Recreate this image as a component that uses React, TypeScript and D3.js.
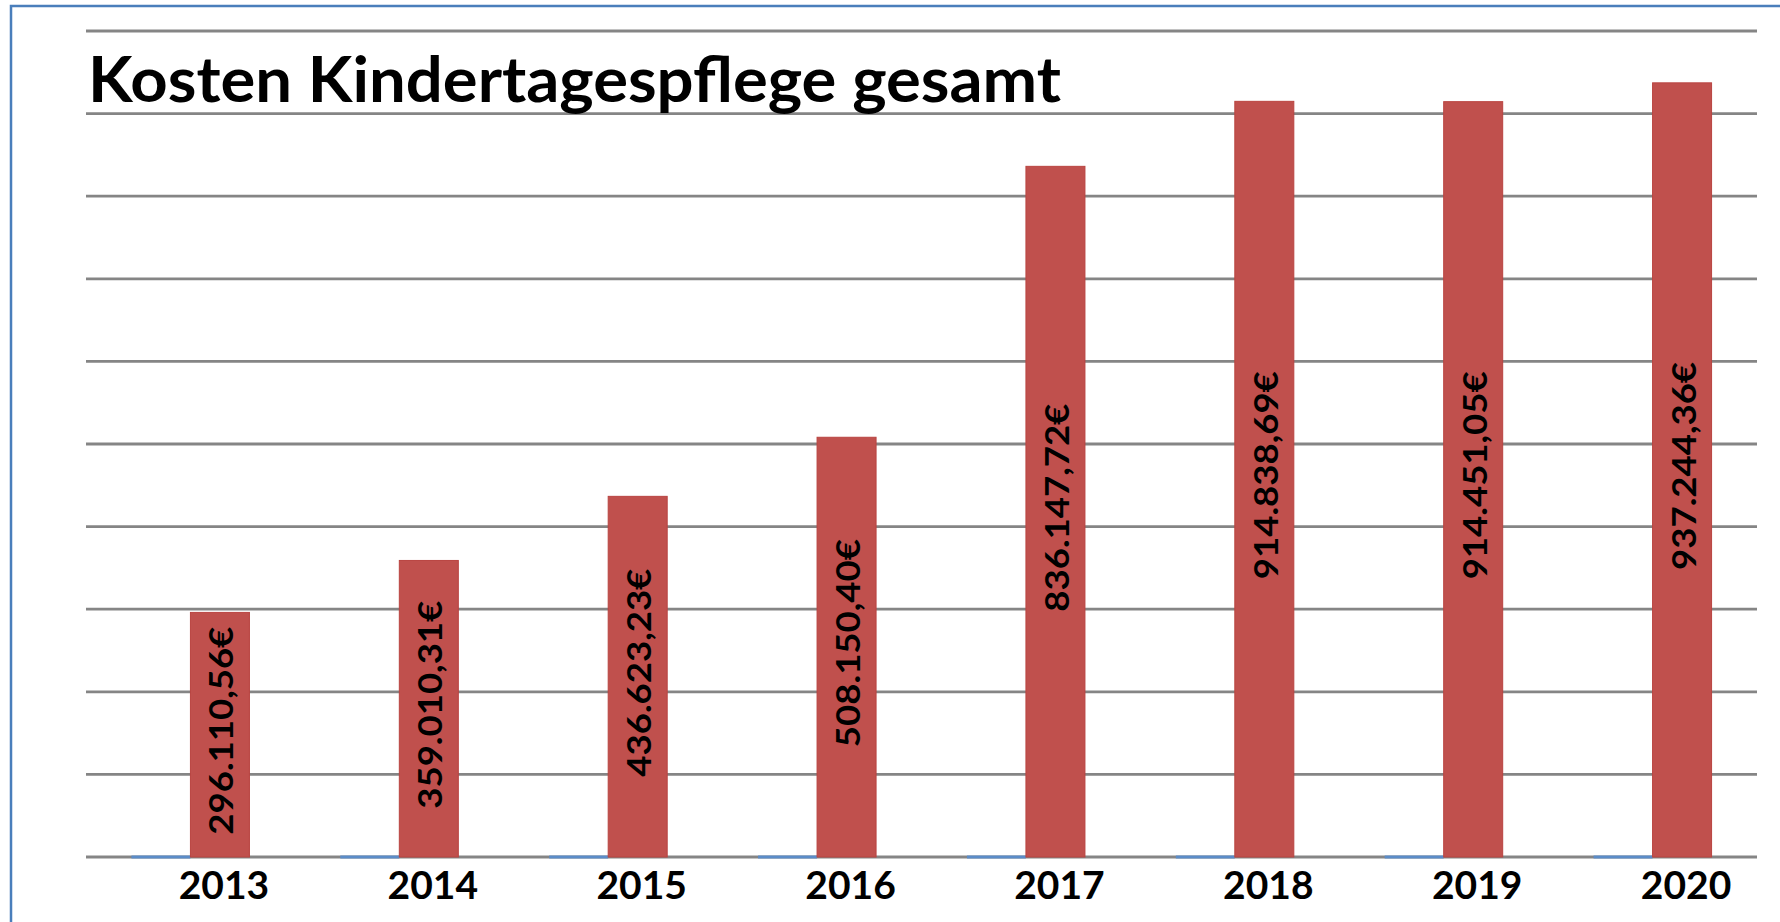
import React from "react";
import * as d3 from "d3";

const title = "Kosten Kindertagespflege gesamt";
const years = ["2013", "2014", "2015", "2016", "2017", "2018", "2019", "2020"];
const costs = [296110.56, 359010.31, 436623.23, 508150.4, 836147.72, 914838.69, 914451.05, 937244.36];
const costLabels = [
  "296.110,56€",
  "359.010,31€",
  "436.623,23€",
  "508.150,40€",
  "836.147,72€",
  "914.838,69€",
  "914.451,05€",
  "937.244,36€",
];
const otherSeries = [0, 0, 0, 0, 0, 0, 0, 0];
const seriesKeys = ["other", "cost"];
const yTicks = [0, 100000, 200000, 300000, 400000, 500000, 600000, 700000, 800000, 900000, 1000000];

const W = 1780;
const H = 922;
const FONT = "Lato, 'Open Sans', 'DejaVu Sans', sans-serif";

export default function App() {
  const x0 = d3.scaleBand<string>().domain(years).range([86, 1757]).paddingInner(0).paddingOuter(0);
  const x1 = d3.scaleBand<string>().domain(seriesKeys).range([0, x0.bandwidth()]).paddingInner(0).paddingOuter(0.77);
  const y = d3.scaleLinear().domain([0, 1000000]).range([857, 31]);
  const [xl, xr] = x0.range();

  return (
    <svg
      width={W}
      height={H}
      style={{ position: "absolute", left: 0, top: 0, background: "#fff" }}
      fontFamily={FONT}
    >
      <rect x={0} y={0} width={W} height={H} fill="#fff" />
      <rect x={11} y={6} width={W + 20} height={H + 20} fill="none" stroke="#4a7ebb" strokeWidth={2.5} />
      {yTicks.map((t) => (
        <line key={t} x1={xl} x2={xr} y1={y(t)} y2={y(t)} stroke="#858585" strokeWidth={2.8} />
      ))}
      <text x={88} y={102} fontSize={63} fontWeight={700} fill="#000" textLength={973} lengthAdjust="spacingAndGlyphs">
        {title}
      </text>
      {years.map((yr, i) => {
        const bx = (x0(yr) as number) + (x1("other") as number);
        return (
          <line
            key={"o" + yr}
            x1={bx}
            x2={bx + x1.bandwidth()}
            y1={y(otherSeries[i])}
            y2={y(otherSeries[i])}
            stroke="#5b8cc8"
            strokeWidth={2.8}
          />
        );
      })}
      {years.map((yr, i) => {
        const bx = (x0(yr) as number) + (x1("cost") as number);
        const bw = x1.bandwidth();
        const top = y(costs[i]);
        const bottom = y(0);
        const cx = bx + bw / 2;
        const cy = (top + bottom) / 2 - 4;
        return (
          <g key={"c" + yr}>
            <rect x={bx} y={top} width={bw} height={bottom - top} fill="#c0504d" stroke="#b94441" strokeWidth={1} />
            <text
              transform={`translate(${cx + 1},${cy}) rotate(-90)`}
              textAnchor="middle"
              dominantBaseline="central"
              fontSize={32}
              fontWeight={700}
              fill="#000"
              textLength={208}
              lengthAdjust="spacingAndGlyphs"
            >
              {costLabels[i]}
            </text>
            <text x={cx + 4} y={899} textAnchor="middle" fontSize={39} fontWeight={700} fill="#000">
              {yr}
            </text>
          </g>
        );
      })}
    </svg>
  );
}
